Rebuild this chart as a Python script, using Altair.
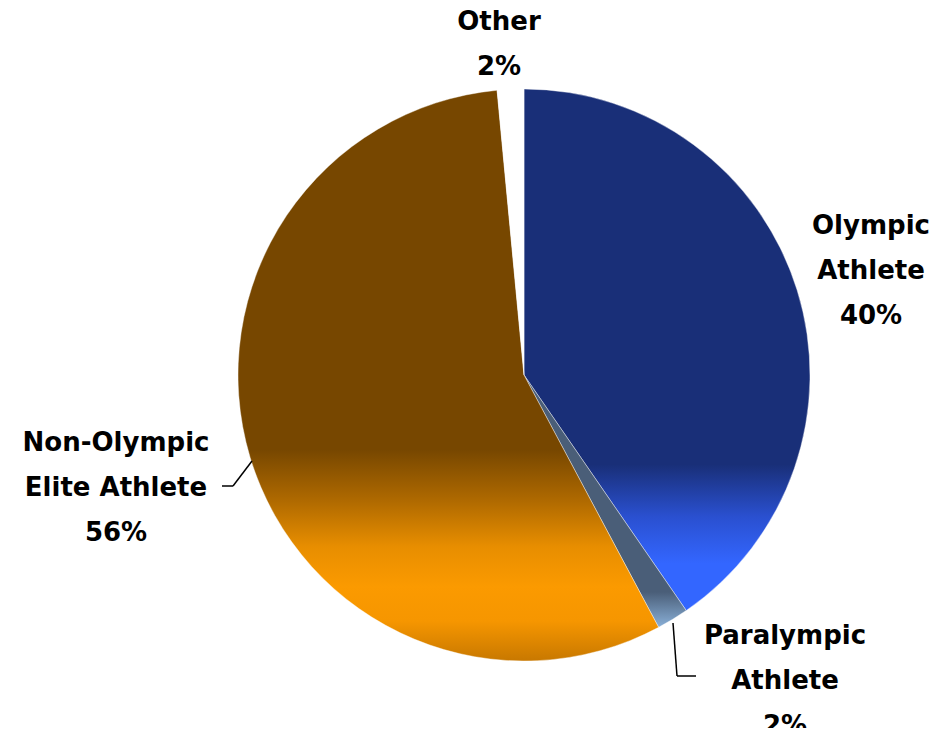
import altair as alt
import pandas as pd

# ---- data ----
categories = ["Olympic Athlete", "Paralympic Athlete", "Non-Olympic Elite Athlete", "Other"]
values = [40.4, 1.8, 56.3, 1.5]
label_lines = [["Olympic", "Athlete"], ["Paralympic", "Athlete"], ["Non-Olympic", "Elite Athlete"], ["Other"]]

# ---- layout (pixels inside the plot area; y = first line of each label) ----
CX, CY, R = 516, 367, 286
label_x = [863, 777, 108, 491]
label_y = [218, 628, 435, 14]
leader_segments = [  # x, y, x2, y2
    (214, 478, 225, 478), (225, 478, 244, 453),
    (665, 615, 669, 668), (669, 668, 688, 668),
]

def grad(stops):
    return alt.LinearGradient(
        gradient="linear", x1=0, y1=0, x2=0, y2=1,
        stops=[alt.GradientStop(offset=o, color=c) for o, c in stops],
    )

fills = {
    "Olympic Athlete": grad([(0, "#192f78"), (0.72, "#192f78"), (0.82, "#2a50d0"), (0.91, "#3366ff"), (1, "#3366ff")]),
    "Paralympic Athlete": grad([(0, "#4a5e78"), (0.86, "#4a5e78"), (1, "#8ab0d8")]),
    "Non-Olympic Elite Athlete": grad([(0, "#774700"), (0.63, "#774700"), (0.72, "#b06a00"), (0.80, "#e88e00"),
                                      (0.87, "#fb9a00"), (0.93, "#f69600"), (1, "#c87800")]),
    "Other": "#ffffff",
}

df = pd.DataFrame({"name": categories, "value": values, "order": list(range(len(categories)))})

def slice_layer(name):
    return (
        alt.Chart(df)
        .transform_joinaggregate(total="sum(value)")
        .transform_window(cum="sum(value)", sort=[alt.SortField("order")], frame=[None, 0])
        .transform_calculate(
            t1="(datum.cum - datum.value) / datum.total * 2 * PI",
            t2="datum.cum / datum.total * 2 * PI",
        )
        .transform_filter(alt.datum.name == name)
        .mark_arc(fill=fills[name], stroke="#ffffff", strokeWidth=0.4, outerRadius=R)
        .encode(
            theta=alt.Theta("t1:Q", scale=None),
            theta2=alt.Theta2("t2:Q"),
            x=alt.value(CX),
            y=alt.value(CY),
        )
    )

total = sum(values)
labels = pd.DataFrame({
    "text": ["\n".join(l + [f"{round(v / total * 100)}%"]) for l, v in zip(label_lines, values)],
    "lx": label_x,
    "ly": label_y,
})

text_layer = (
    alt.Chart(labels)
    .mark_text(font="DejaVu Sans", fontSize=26, fontWeight="bold", color="#000000",
               lineBreak="\n", lineHeight=45, align="center", baseline="middle")
    .encode(x=alt.X("lx:Q", scale=None), y=alt.Y("ly:Q", scale=None), text="text:N")
)

seg = pd.DataFrame(leader_segments, columns=["x", "y", "x2", "y2"])
leader_layer = (
    alt.Chart(seg)
    .mark_rule(color="#000000", strokeWidth=1.5)
    .encode(x=alt.X("x:Q", scale=None), y=alt.Y("y:Q", scale=None),
            x2="x2:Q", y2="y2:Q")
)

chart = (
    alt.layer(*[slice_layer(n) for n in categories], leader_layer, text_layer)
    .properties(width=923, height=720, autosize=alt.AutoSizeParams(type="none"), padding=0)
    .configure_view(stroke=None)
)

chart.save("out.html", embed_options={"renderer": "svg", "actions": False})
